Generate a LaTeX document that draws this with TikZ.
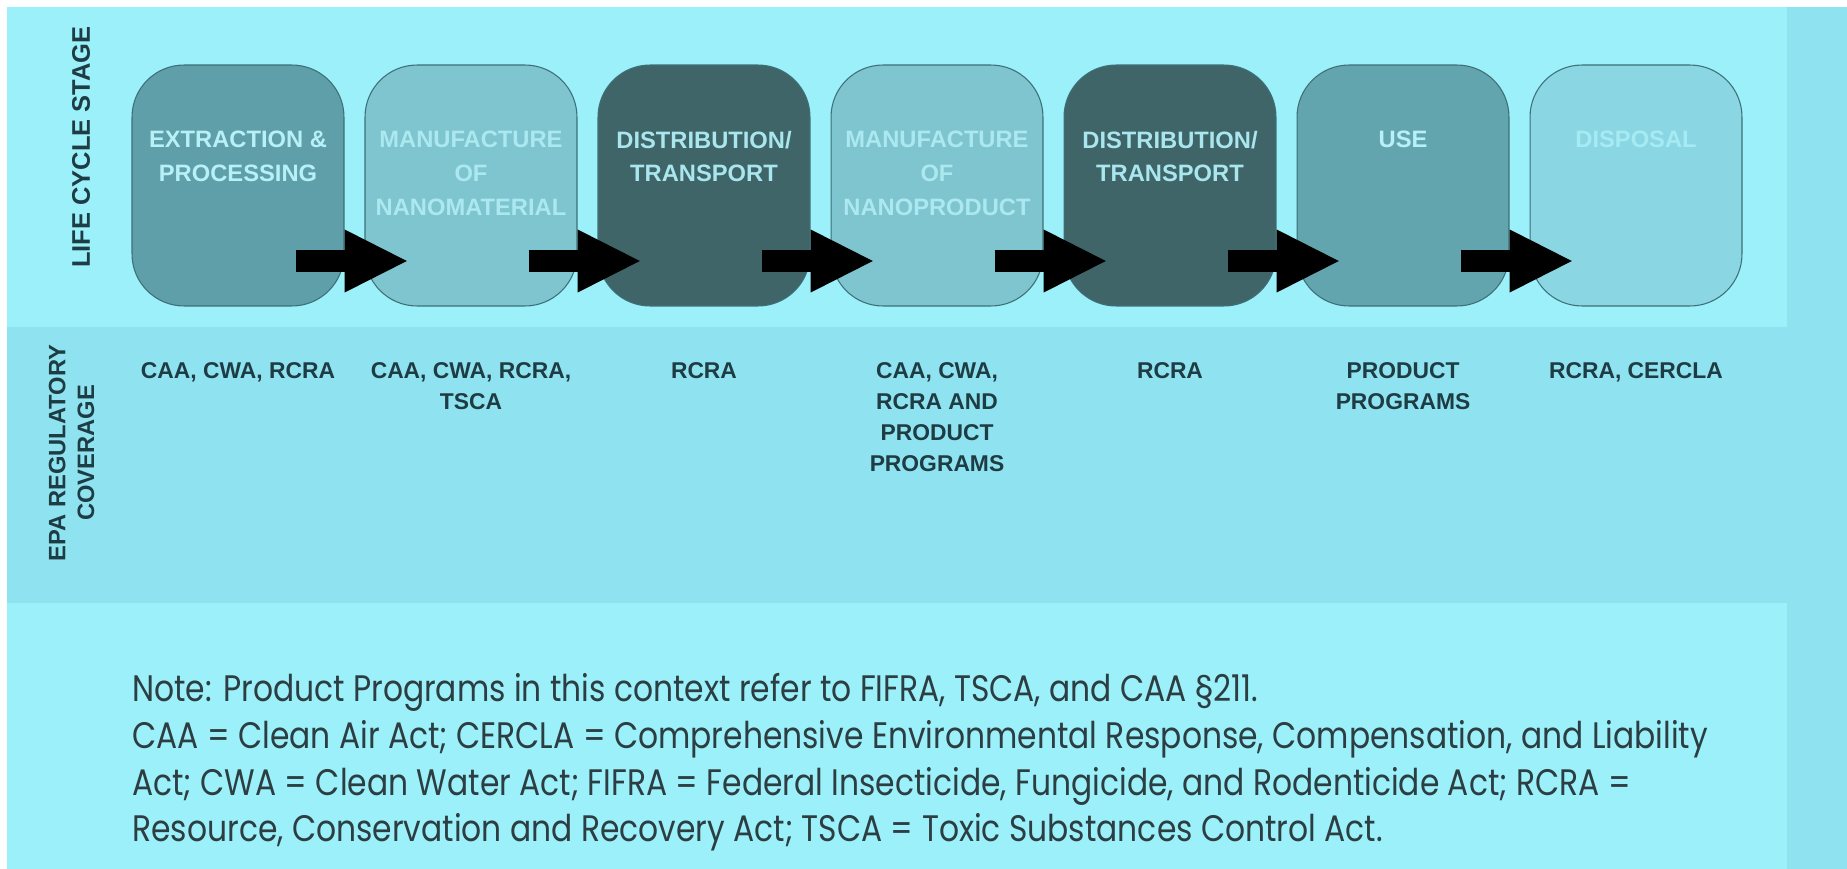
\documentclass[tikz,border=0pt]{standalone}
\usepackage{fontspec}
\setmainfont{Liberation Sans}
\newfontfamily\notefont{Poppins}[FakeStretch=0.85]
\usetikzlibrary{positioning,calc,arrows.meta}

\definecolor{panellight}{HTML}{9BF0FA}
\definecolor{paneldark}{HTML}{8FE3F0}
\definecolor{stagemid}{HTML}{5E9FA9}
\definecolor{stagelight}{HTML}{7EC5D0}
\definecolor{stagedark}{HTML}{3F6569}
\definecolor{stageuse}{HTML}{63A5AF}
\definecolor{stagepale}{HTML}{8AD7E3}
\definecolor{stageline}{HTML}{3E6F76}
\definecolor{txtmid}{HTML}{B8F0F7}
\definecolor{txtlight}{HTML}{ACE8F0}
\definecolor{txtdark}{HTML}{A9E6EE}
\definecolor{txtpale}{HTML}{A6EBF4}
\definecolor{labeltext}{HTML}{1E3C43}
\definecolor{notetext}{HTML}{2C3E42}

\begin{document}
\begin{tikzpicture}[x=0.02cm,y=-0.02cm,
	stage/.style={draw=stageline,line width=0.6pt,rounded corners=1.04cm,minimum width=4.24cm,minimum height=4.82cm,inner sep=0pt},
	stagetext/.style={font=\bfseries\fontsize{13.5}{19.3}\selectfont,align=center,inner sep=0pt},
	cover/.style={font=\bfseries\fontsize{13}{17.6}\selectfont,align=center,inner sep=0pt,text=labeltext},
	rowlabel/.style={font=\bfseries\fontsize{13.5}{16.4}\selectfont,align=center,rotate=90,inner sep=0pt,text=labeltext},
	flow/.style={line width=0.44cm,-{Triangle[length=1.28cm,width=1.16cm]},black}]
		\useasboundingbox (0,0) rectangle (1847,869);
		
		% the cyan panels
		\fill[white] (0,0) rectangle (1847,869);
		\fill[paneldark] (7,7) rectangle (1847,869);
		\fill[panellight] (7,7) rectangle (1787,327);
		\fill[panellight] (7,603) rectangle (1787,869);
		
		% the stage boxes, their names and the coverage below them
		\foreach \n/\fc/\tc/\txt/\cov in {
			1/stagemid/txtmid/{EXTRACTION \&\\PROCESSING}/{CAA, CWA, RCRA},
			2/stagelight/txtlight/{MANUFACTURE\\OF\\NANOMATERIAL}/{CAA, CWA, RCRA,\\TSCA},
			3/stagedark/txtdark/{DISTRIBUTION/\\TRANSPORT}/{RCRA},
			4/stagelight/txtlight/{MANUFACTURE\\OF\\NANOPRODUCT}/{CAA, CWA,\\RCRA AND\\PRODUCT\\PROGRAMS},
			5/stagedark/txtdark/{DISTRIBUTION/\\TRANSPORT}/{RCRA},
			6/stageuse/txtmid/{USE}/{PRODUCT\\PROGRAMS},
			7/stagepale/txtpale/{DISPOSAL}/{RCRA, CERCLA}}
		{
			\node[stage,fill=\fc] (s\n) at ({233*\n+5},185.5) {};
			\node[stagetext,text=\tc,below=1.32cm of s\n.north] (t\n) {\txt};
			\node[cover,below=1.12cm of s\n.south] (c\n) {\cov};
		}
		
		% the arrows between the stages
		\foreach \n [count=\m from 2] in {1,...,6}
			\draw[flow] ($(s\n.east)+(-49,75.5)$) -- ($(s\m.west)+(44,75.5)$);
		
		% labels for the rows
		\node[rowlabel,font=\bfseries\fontsize{14.5}{16.4}\selectfont] (lifelabel) at (81,147) {LIFE CYCLE STAGE};
		\node[rowlabel] (epalabel) at (71.5,453) {EPA REGULATORY\\COVERAGE};
		
		% the note
		\node[anchor=north west,align=left,inner sep=0pt,text=notetext,font=\notefont\fontsize{21}{26.6}\selectfont] (note) at (132,673)
		{Note: Product Programs in this context refer to FIFRA, TSCA, and CAA §211.\\
			CAA = Clean Air Act; CERCLA = Comprehensive Environmental Response, Compensation, and Liability\\
			Act; CWA = Clean Water Act; FIFRA = Federal Insecticide, Fungicide, and Rodenticide Act; RCRA =\\
			Resource, Conservation and Recovery Act; TSCA = Toxic Substances Control Act.};
	\end{tikzpicture}
\end{document}
